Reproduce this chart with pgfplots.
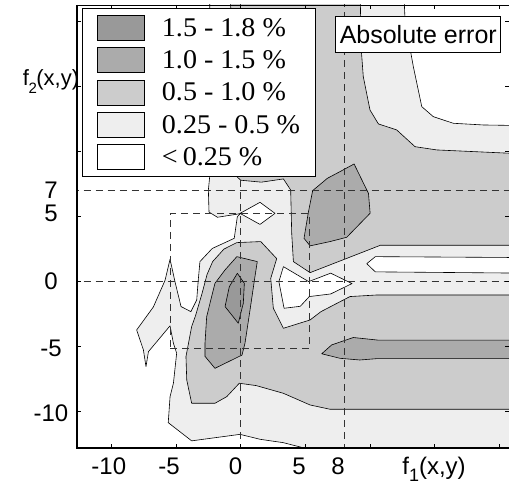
\documentclass[border=0pt]{standalone}
\usepackage{pgfplots}
\pgfplotsset{compat=1.18}
\usepackage{fontspec}
\setmainfont{Liberation Sans}
\newfontfamily\legfont[FakeStretch=1.04]{Liberation Serif}
\definecolor{lg}{gray}{0.935}
\definecolor{mg}{gray}{0.80}
\definecolor{dg}{gray}{0.67}
\definecolor{vg}{gray}{0.60}
\begin{document}
\begin{tikzpicture}
\path[use as bounding box] (-77pt,-39pt) rectangle (432pt,448pt);
\begin{axis}[
  at={(0,0)}, anchor=south west,
  scale only axis, width=432pt, height=443pt,
  xmin=-12.65, xmax=20.73, ymin=-12.85, ymax=21.23,
  axis on top,
  axis background/.style={fill=lg},
  axis line style={line width=0.8pt},
  tick style={black, line width=0.8pt},
  major tick length=4pt,
  tick align=inside,
  xtick={-10,-5,0,5,10,15,20}, xticklabels={,,,,,,},
  ytick={-10,-5,0,5,10,15,20}, yticklabels={,,,,,,},
  extra x ticks={-10.19,-5.54,-0.4,4.5,7.52,14.94},
  extra x tick labels={-10,-5,0,5,8,{f\raisebox{-7pt}{\fontsize{18pt}{18pt}\selectfont 1}(x,y)}},
  extra x tick style={major tick length=0pt},
  extra y ticks={-10.15,-5.15,-0.05,5.22,7.0,15.33},
  extra y tick labels={-10,-5,0,5,7,{\fontsize{22pt}{22pt}\selectfont f\kern-0.5pt\raisebox{-8pt}{\fontsize{15pt}{15pt}\selectfont 2}\kern-0.5pt(x,y)}},
  extra y tick style={major tick length=0pt},
  xticklabel style={font=\fontsize{24pt}{24pt}\selectfont, anchor=base, yshift=-27pt, inner sep=0pt},
  yticklabel style={font=\fontsize{24pt}{24pt}\selectfont, anchor=center, xshift=-26pt, inner sep=0pt},
  legend image code/.code={\draw[#1,draw=black,line width=0.8pt] (0pt,-12.5pt) rectangle (47pt,12.5pt);},
  legend cell align=left,
  legend style={at={(axis cs:-12.26,21.0)}, anchor=north west, draw=black, line width=0.8pt, fill=white,
    inner xsep=15pt, inner ysep=6.5pt, row sep=6.6pt, column sep=16.7pt,
    nodes={inner sep=0pt},
    font={\legfont\fontsize{27pt}{27pt}\selectfont}},
  contour/.style={draw=black, line width=0.6pt, line join=round, forget plot},
  dashl/.style={draw=black!80, line width=0.6pt, dash pattern=on 7pt off 5pt, forget plot},
]
\addlegendimage{fill=vg}\addlegendentry{1.5 - 1.8 \%}
\addlegendimage{fill=dg}\addlegendentry{1.0 - 1.5 \%}
\addlegendimage{fill=mg}\addlegendentry{0.5 - 1.0 \%}
\addlegendimage{fill=lg}\addlegendentry{0.25 - 0.5 \%}
\addlegendimage{fill=white}\addlegendentry{<\kern5pt 0.25 \%}

% white (< 0.25) regions
\addplot[contour, fill=white] coordinates {
(-14,-14) (-14,23) (-2.4,23) (-2.37,8.3) (-2.5,7.0) (-2.45,5.3) (-1.8,4.9) (-0.2,5.15) (0,5.2)
(-0.26,4.95) (-0.5,3.28) (-2.2,2.5) (-3.15,1.49) (-3.28,0.08) (-3.4,-1.46) (-3.85,-2.36)
(-4.61,-1.97) (-5.05,-0.18) (-5.46,1.67) (-5.85,0.04) (-6.75,-2.0) (-8.04,-3.77) (-7.52,-5.3)
(-7.32,-6.59) (-7.13,-5.44) (-5.46,-3.45) (-5.2,-4.8) (-4.95,-5.56) (-5.2,-7.87) (-5.46,-8.9)
(-5.6,-10.9) (-3.79,-12.3) (-0.05,-11.8) (1.49,-12.18) (3.29,-12.44) (5.1,-12.9) (5.1,-14)
} -- cycle;
\addplot[contour, fill=white] coordinates {
(12.57,23) (12.7,20) (13.34,16.48) (13.99,13.41) (14.88,12.64) (16.43,12.13) (18.75,12.0) (22,11.95) (22,23)
} -- cycle;
\addplot[contour, fill=white] coordinates {(-0.05,5.2) (1.49,6.05) (2.65,5.2) (1.49,4.35)} -- cycle;
\addplot[contour, fill=white] coordinates {
(3.3,1.1) (5.25,-0.05) (6.95,0.6) (8.6,-0.2) (6.95,-1.0) (5.3,-1.2) (4.6,-1.95) (3.35,-2.1) (2.95,-0.05)
} -- cycle;
\addplot[contour, fill=white] coordinates {(9.74,1.33) (10.4,1.87) (22,1.8) (22,0.6) (10.4,0.7)} -- cycle;

% mid gray (0.5 - 1.0)
\addplot[contour, fill=mg] coordinates {
(-2.17,1.49) (-1.3,2.45) (-0.31,2.95) (1.55,3.03) (2.78,1.72) (2.32,0.2) (2.52,-2.1) (3.3,-3.64)
(5.36,-3.0) (6.2,-2.36) (8.44,-1.2) (10.5,-1.08) (22,-1.08) (22,-9.87) (6.9,-9.87) (5.36,-9.54)
(3.29,-8.64) (1.2,-8.05) (-0.11,-7.87) (-1.08,-8.9) (-1.99,-9.41) (-3.79,-9.41) (-4.17,-7.62)
(-4.23,-5.82) (-3.79,-3.5) (-3.5,-2.7) (-3.0,-1.0) (-2.6,0.5)
} -- cycle;
\addplot[contour, fill=mg] coordinates {
(9.22,23) (9.3,18) (9.47,15.72) (9.99,13.15) (10.64,12.08) (12.05,11.62) (13.47,10.33) (15.15,10.08)
(22,9.77) (22,2.75) (10.8,2.75) (8.2,1.74) (5.36,0.64) (4.07,1.49) (3.94,3.67) (3.86,7.0) (3.3,7.85)
(1.6,7.6) (0,7.75) (-0.6,8.3) (-0.8,23)
} -- cycle;

% dark (1.0 - 1.5)
\addplot[contour, fill=dg] coordinates {
(-0.3,1.87) (1.28,1.49) (1.1,0.33) (0.72,-2.23) (0.33,-4.79) (0.1,-5.7) (-1.99,-6.72) (-2.76,-5.8)
(-2.76,-4.79) (-2.63,-2.74) (-1.99,-0.18) (-1.21,0.85)
} -- cycle;
\addplot[contour, fill=dg] coordinates {
(8.76,9.0) (9.87,6.74) (10.0,5.21) (8.19,3.36) (6.9,3.03) (5.36,2.7) (4.89,3.28) (5.23,5.3) (5.56,6.95)
(6.7,7.9) (7.67,8.41)
} -- cycle;
\addplot[contour, fill=dg] coordinates {
(6.26,-5.6) (7.03,-4.92) (8.7,-4.35) (10.6,-4.55) (22,-4.55) (22,-5.97) (10.6,-5.97) (9.2,-6.08) (7.67,-5.95)
} -- cycle;

% darkest (1.5 - 1.8)
\addplot[contour, fill=vg] coordinates {
(-0.26,0.59) (0.28,-0.18) (0.2,-1.72) (-0.19,-3.25) (-1.21,-1.97) (-0.88,-0.44)
} -- cycle;

% dashed reference lines
\addplot[dashl] coordinates {(-14,7) (22,7)};
\addplot[dashl] coordinates {(-14,0) (22,0)};
\addplot[dashl] coordinates {(8,-14) (8,23)};
\addplot[dashl] coordinates {(0,-14) (0,23)};
\addplot[dashl] coordinates {(-5.45,-5.2) (5.3,-5.2) (5.3,5.2) (-5.45,5.2) (-5.45,-5.2)};

\node[draw=black, fill=white, line width=0.8pt, minimum width=165pt, minimum height=36pt, inner sep=0pt,
  font=\fontsize{25pt}{25pt}\selectfont] at (axis cs:13.72,18.95) {Absolute error};
\end{axis}
\draw[line width=1.8pt] (0pt,443pt) -- (0pt,0pt) -- (432pt,0pt);
\end{tikzpicture}
\end{document}
